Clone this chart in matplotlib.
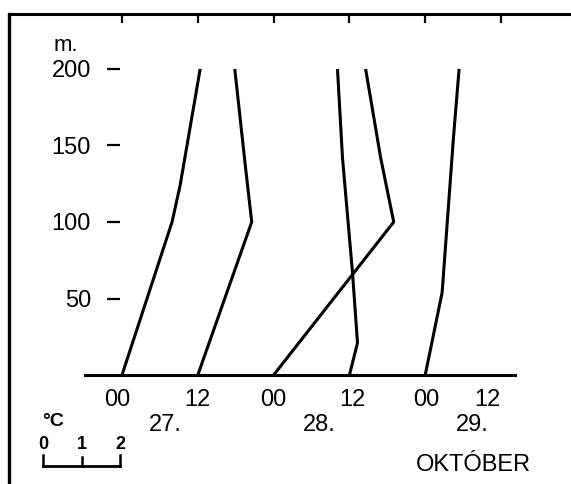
import matplotlib
matplotlib.use('Agg')
import matplotlib.pyplot as plt
from matplotlib.lines import Line2D

plt.rcParams['font.family'] = ['Liberation Sans Narrow', 'Liberation Sans', 'DejaVu Sans']

# start time of each profile (hours from 27 Oct 00h)
start_hours = [0, 12, 24, 36, 48]

# heights (m) and temperature change from the surface value (degC)
h1 = [0, 100, 124, 200]
t1 = [0.0, 1.30, 1.51, 2.03]
h2 = [0, 100, 140, 200]
t2 = [0.0, 1.40, 1.22, 0.96]
h3 = [0, 100, 142, 200]
t3 = [0.0, 3.12, 2.78, 2.39]
h4 = [0, 21, 67, 142, 200]
t4 = [0.0, 0.21, 0.08, -0.18, -0.31]
h5 = [0, 54, 154, 200]
t5 = [0.0, 0.44, 0.73, 0.88]

heights = [h1, h2, h3, h4, h5]
temps = [t1, t2, t3, t4, t5]

tick_hours = [0, 12, 24, 36, 48, 60]
# the hand lettered labels sit a little off the tick marks
label_hours = [-0.8, 11.9, 23.9, 36.5, 48.15, 57.9]
tick_labels = ['00', '12', '00', '12', '00', '12']
day_labels = ['27.', '28.', '29.']
day_pos = [6.8, 31.3, 55.4]
height_ticks = [50, 100, 150, 200]

H_PER_DEG = 6.095   # hours of time axis per 1 degC

fig = plt.figure(figsize=(5.71, 4.84), dpi=100)
ax = fig.add_axes([9/571, 0, 1 - 9/571, 1 - 14/484])
ax.set_xlim(-17.89, 71.08)
ax.set_ylim(-71.2, 235.9)

for t0, hh, tt in zip(start_hours, heights, temps):
    xs = [t0 + d * H_PER_DEG for d in tt]
    ax.plot(xs, hh, color='black', lw=2.2, solid_capstyle='butt')

# spines
ax.spines['right'].set_visible(False)
ax.spines['left'].set_position(('data', -0.32))
ax.spines['left'].set_visible(False)
ax.spines['bottom'].set_position(('data', 0))
ax.spines['bottom'].set_bounds(-5.86, 62.2)
ax.spines['bottom'].set_linewidth(2.2)
ax.spines['top'].set_linewidth(2.2)

ax.set_xticks(tick_hours)
ax.set_xticklabels([])
ax.set_xticks(label_hours, tick_labels, minor=True)
ax.tick_params(axis='x', which='major', bottom=False, top=True,
               direction='in', length=6.5, width=1.6)
ax.tick_params(axis='x', which='minor', bottom=False, top=False,
               labelbottom=True, pad=8, labelsize=17)
ax.set_yticks(height_ticks)
ax.tick_params(axis='y', direction='out', length=9.4, width=1.6, pad=11.5,
               labelsize=17)

# frame line on the left
fig.add_artist(Line2D([9/571, 9/571], [0, 1 - 14/484], color='black',
                      lw=2.4, transform=fig.transFigure))

ax.text(-10.9, 212, 'm.', fontsize=16, ha='left', va='baseline')

for lab, p in zip(day_labels, day_pos):
    ax.text(p, -32.7, lab, fontsize=17, ha='center', va='center')
ax.text(55.7, -58.8, 'OKTÓBER', fontsize=17, ha='center', va='center')

# temperature scale bar
bar_x0 = -12.5
bar_y = -59.5
scale_deg = [0, 1, 2]
ax.plot([bar_x0, bar_x0 + 2 * H_PER_DEG], [bar_y, bar_y], color='black',
        lw=2, clip_on=False)
for d in scale_deg:
    xx = bar_x0 + d * H_PER_DEG
    top = -53.5 if d == 1 else -52.3
    ax.plot([xx, xx], [bar_y, top], color='black', lw=1.8)
    ax.text(xx, -45.5, str(d), fontsize=13, ha='center', va='center',
            fontweight='bold')
ax.text(bar_x0 - 0.2, -30.6, '°C', fontsize=14, ha='left', va='center',
        fontweight='bold')

fig.savefig('out.png', dpi=100)
